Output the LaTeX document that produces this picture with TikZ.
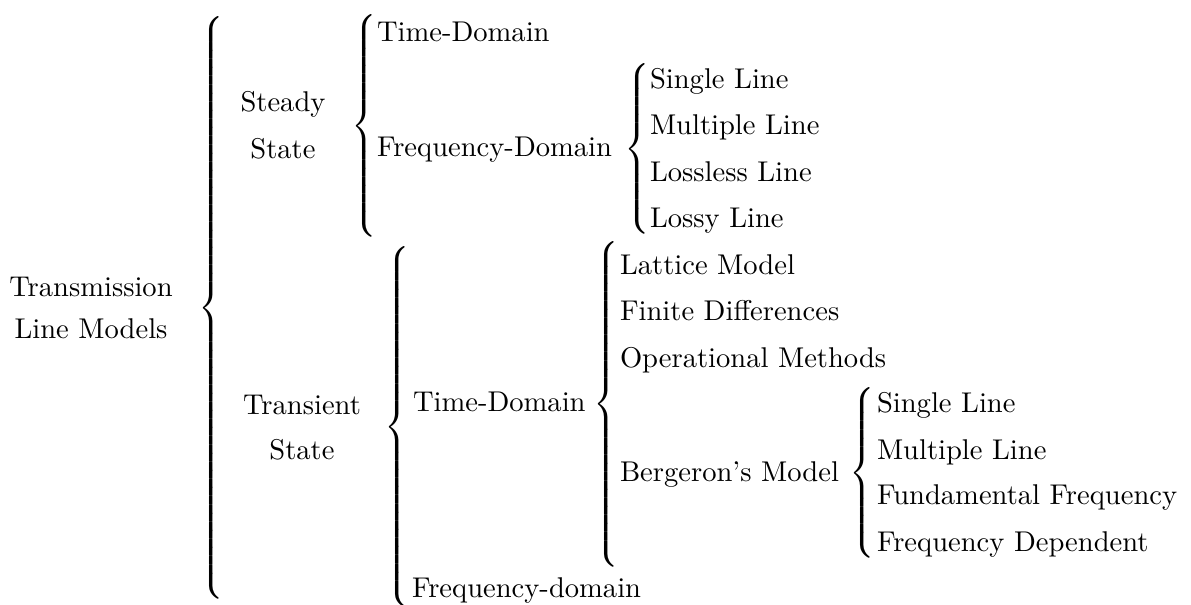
\documentclass[tikz,border=0pt]{standalone}
\newcommand{\mybrace}[1]{$\delimiterfactor=1000 \delimitershortfall=0pt \left\{\vcenter{\hrule height #1 width 0pt}\right.$}
\tikzset{
  lbl/.style={inner sep=0pt, outer sep=0pt, anchor=base west},
  clbl/.style={inner sep=0pt, outer sep=0pt, anchor=base},
  brc/.style={inner sep=0pt, outer sep=0pt, anchor=west}
}
\begin{document}
\begin{tikzpicture}[x=0.35pt, y=-0.35pt]
\useasboundingbox (0,0) rectangle (1191,605);
% root
\node[clbl] (root1) at (91,297) {Transmission};
\node[clbl] (root2) at (91,339) {Line Models};
\node[brc] (b0) at (198,308) {\mybrace{203pt}};
% steady
\node[clbl] (st1) at (283,112) {Steady};
\node[clbl] (st2) at (283,159) {State};
\node[brc] (b1) at (351,126) {\mybrace{78pt}};
\node[lbl] (std) at (377,42) {Time-Domain};
\node[lbl] (sfd) at (377,157) {Frequency-Domain};
\node[brc] (b2) at (624,149) {\mybrace{58.5pt}};
\node[lbl] (s1) at (650,89) {Single Line};
\node[lbl] (s2) at (650,135) {Multiple Line};
\node[lbl] (s3) at (650,182) {Lossless Line};
\node[lbl] (s4) at (650,228) {Lossy Line};
% transient
\node[clbl] (tr1) at (302,415) {Transient};
\node[clbl] (tr2) at (302,460) {State};
\node[brc] (b3) at (384,427) {\mybrace{122pt}};
\node[lbl] (ttd) at (413,412) {Time-Domain};
\node[lbl] (tfd) at (412,598) {Frequency-domain};
\node[brc] (b4) at (593,404) {\mybrace{111pt}};
\node[lbl] (t1) at (620,275) {Lattice Model};
\node[lbl] (t2) at (620,321) {Finite Differences};
\node[lbl] (t3) at (620,368) {Operational Methods};
\node[lbl] (t4) at (620,482) {Bergeron's Model};
\node[brc] (b5) at (849,473) {\mybrace{58pt}};
\node[lbl] (u1) at (877,413) {Single Line};
\node[lbl] (u2) at (877,460) {Multiple Line};
\node[lbl] (u3) at (877,505) {Fundamental Frequency};
\node[lbl] (u4) at (877,552) {Frequency Dependent};
\end{tikzpicture}
\end{document}
